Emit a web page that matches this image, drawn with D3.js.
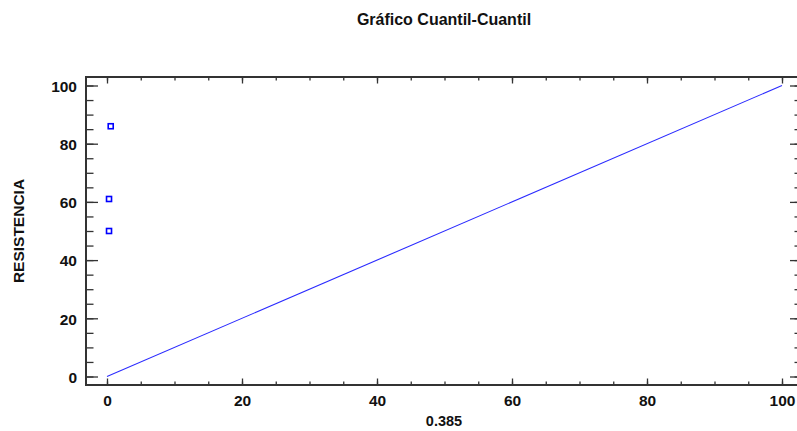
<!DOCTYPE html>
<html>
<head>
<meta charset="utf-8">
<script src="https://cdn.jsdelivr.net/npm/d3@7"></script>
<style>
  html, body { margin: 0; padding: 0; background: #fff; }
  svg { display: block; }
  text { font-family: "Liberation Sans", Arial, sans-serif; font-weight: bold; fill: #111; }
</style>
</head>
<body>
<svg id="chart" width="797" height="431"></svg>
<script>
// Quantile-quantile data: observed RESISTENCIA against theoretical quantiles
const sampleQuantiles = [0.3, 0.3, 0.55];
const resistencia = [50, 61, 86];
// Reference line endpoints
const refLineX = [0, 100];
const refLineY = [0, 100];
const xTicks = [0, 20, 40, 60, 80, 100];
const yTicks = [0, 20, 40, 60, 80, 100];

const frame = { left: 86, right: 802, top: 77, bottom: 385 };

const svg = d3.select("#chart");

const x = d3.scaleLinear().domain([0, 100]).range([107, 782]);
const y = d3.scaleLinear().domain([0, 100]).range([376.5, 85.5]);

const minorX = d3.range(0, 101, 5);
const minorY = d3.range(0, 101, 5);

const axisColor = "#333";
const labelStyle = g => g.selectAll("text")
  .style("font-size", "15.5px")
  .style("font-family", "Liberation Sans, Arial, sans-serif")
  .style("font-weight", "bold")
  .attr("fill", "#111");

// Bottom axis (ticks point up into the plot)
const gBottom = svg.append("g").attr("transform", `translate(0,${frame.bottom})`);
gBottom.call(d3.axisBottom(x).tickValues(minorX).tickSize(-3.5).tickFormat(""))
  .call(g => g.select(".domain").remove());
gBottom.append("g").call(d3.axisBottom(x).tickValues(xTicks).tickSize(-6.5).tickFormat(d3.format("d")))
  .call(g => g.select(".domain").remove())
  .call(g => g.selectAll("text").attr("dy", 0).attr("y", 21))
  .call(labelStyle);

// Top axis (ticks point down, no labels)
const gTop = svg.append("g").attr("transform", `translate(0,${frame.top})`);
gTop.call(d3.axisTop(x).tickValues(minorX).tickSize(-3.5).tickFormat(""))
  .call(g => g.select(".domain").remove());
gTop.append("g").call(d3.axisTop(x).tickValues(xTicks).tickSize(-6.5).tickFormat(""))
  .call(g => g.select(".domain").remove());

// Left axis (ticks point right)
const gLeft = svg.append("g").attr("transform", `translate(${frame.left},0)`);
gLeft.call(d3.axisLeft(y).tickValues(minorY).tickSize(-7.5).tickFormat(""))
  .call(g => g.select(".domain").remove());
gLeft.append("g").call(d3.axisLeft(y).tickValues(yTicks).tickSize(-12).tickFormat(d3.format("d")))
  .call(g => g.select(".domain").remove())
  .call(g => g.selectAll("text").attr("x", -9).attr("dy", "0.38em"))
  .call(labelStyle);

// Right axis (ticks point left)
const gRight = svg.append("g").attr("transform", `translate(${frame.right},0)`);
gRight.call(d3.axisRight(y).tickValues(minorY).tickSize(-7.5).tickFormat(""))
  .call(g => g.select(".domain").remove());
gRight.append("g").call(d3.axisRight(y).tickValues(yTicks).tickSize(-12).tickFormat(""))
  .call(g => g.select(".domain").remove());

svg.selectAll(".tick line").attr("stroke", axisColor).attr("stroke-width", 1.3);

// Frame
svg.append("rect")
  .attr("x", frame.left).attr("y", frame.top)
  .attr("width", frame.right - frame.left).attr("height", frame.bottom - frame.top)
  .attr("fill", "none").attr("stroke", axisColor).attr("stroke-width", 2);

// Reference line
svg.append("line")
  .attr("x1", x(refLineX[0])).attr("y1", y(refLineY[0]))
  .attr("x2", x(refLineX[1])).attr("y2", y(refLineY[1]))
  .attr("stroke", "#2b2bff").attr("stroke-width", 1.1);

// Points
const pts = sampleQuantiles.map((q, i) => ({ q, v: resistencia[i] }));
svg.selectAll("rect.pt").data(pts).enter().append("rect")
  .attr("class", "pt")
  .attr("x", d => x(d.q) - 2.5).attr("y", d => y(d.v) - 2.5)
  .attr("width", 5).attr("height", 5)
  .attr("fill", "none").attr("stroke", "#0000ff").attr("stroke-width", 1.6);

// Titles
svg.append("text")
  .attr("x", 444).attr("y", 24.5)
  .attr("text-anchor", "middle").style("font-size", "16px")
  .text("Gráfico Cuantil-Cuantil");

svg.append("text")
  .attr("x", 444).attr("y", 426)
  .attr("text-anchor", "middle").style("font-size", "14.5px")
  .text("0.385");

svg.append("text")
  .attr("transform", `translate(24,${(frame.top + frame.bottom) / 2}) rotate(-90)`)
  .attr("text-anchor", "middle").style("font-size", "15.5px")
  .text("RESISTENCIA");
</script>
</body>
</html>
